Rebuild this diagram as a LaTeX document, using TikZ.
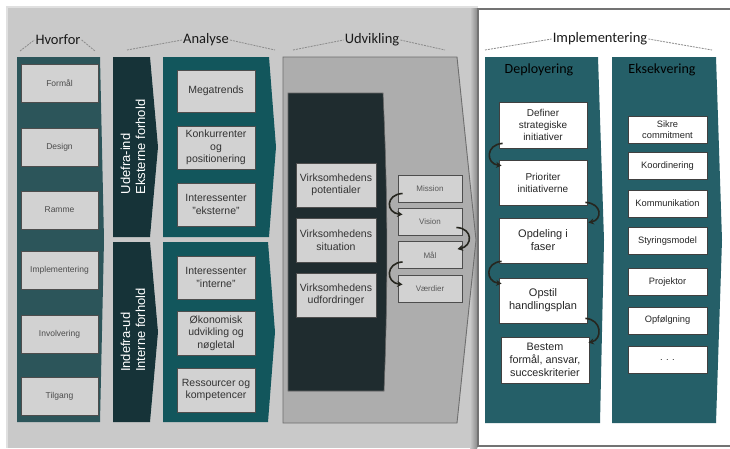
\documentclass[tikz,border=0pt]{standalone}
\usepackage{fontspec}
\setmainfont{Liberation Sans}
\newfontfamily\hdfont{Carlito}
\usetikzlibrary{arrows.meta,calc}
\definecolor{bgray}{HTML}{C9C9C9}
\definecolor{hvcol}{HTML}{2C555A}
\definecolor{udark}{HTML}{163338}
\definecolor{anteal}{HTML}{12565C}
\definecolor{udvpan}{HTML}{ADADAD}
\definecolor{udvline}{HTML}{6E6E6E}
\definecolor{inndark}{HTML}{1F2C2F}
\definecolor{depteal}{HTML}{255F68}
\definecolor{boxfill}{HTML}{D2D2D2}
\definecolor{boxline}{HTML}{4D4D4D}
\definecolor{arrc}{HTML}{26261F}
\definecolor{dashc}{HTML}{8A8A8A}
\tikzset{
  hd/.style={font=\hdfont\fontsize{14.5}{16}\selectfont, text=black!90, inner sep=1pt},
  subhd/.style={font=\hdfont\fontsize{14}{15}\selectfont, text=black, inner sep=1pt},
  dashln/.style={draw=dashc, line width=0.8pt, dash pattern=on 2pt off 1pt},
  gbox/.style={draw=boxline, fill=boxfill, line width=0.9pt, align=center, inner sep=1pt, text=black!80},
  hvbox/.style={gbox, minimum width=77pt, minimum height=38pt, font=\fontsize{8.5}{10}\selectfont, text=black!70},
  anbox/.style={gbox, minimum width=78pt, minimum height=43pt, font=\fontsize{10.5}{12.5}\selectfont},
  vbox/.style={gbox, minimum width=80pt, minimum height=44pt, font=\fontsize{10.5}{12.5}\selectfont},
  mbox/.style={gbox, minimum width=64pt, minimum height=27pt, font=\fontsize{8}{9}\selectfont, text=black!65},
  wbox/.style={draw=black!75, fill=white, line width=0.8pt, align=center, inner sep=1pt, text=black!85},
  dbox/.style={wbox, minimum width=88pt, minimum height=45pt, font=\fontsize{10}{12}\selectfont},
  ebox/.style={wbox, minimum width=79pt, minimum height=27pt, font=\fontsize{9.3}{10.5}\selectfont},
  vtext/.style={rotate=90, align=left, text=white, font=\fontsize{13}{15}\selectfont, inner sep=0pt},
  curv/.style={draw=arrc, line width=1.6pt, -{Stealth[length=5.5pt,width=6pt]}}
}
\begin{document}
\begin{tikzpicture}[x=1pt,y=-1pt]
\useasboundingbox (0,0) rectangle (730,448);
\fill[white] (0,0) rectangle (730,448);
% main gray area
\fill[black!12] (6,6) rectangle (478,448);
\fill[bgray] (8,8) rectangle (478,448);
% right panel
\shade[left color=bgray, right color=black!45] (470,8) rectangle (477,448);
\fill[white] (478,8) rectangle (730,446);
\draw[black!55, line width=2.2pt] (731,9) -- (478,9) -- (478,446) -- (731,446);

% Hvorfor column
\fill[hvcol] (17,57) -- (100,57) -- (104,240) -- (100,422) -- (17,422) -- cycle;
% Udefra / Indefra arrows
\fill[udark] (113,57) -- (150,57) -- (158,147) -- (150,237) -- (113,237) -- cycle;
\fill[udark] (113,242) -- (150,242) -- (158,332) -- (150,422) -- (113,422) -- cycle;
% Analyse boxes
\fill[anteal] (163,57) -- (269,57) -- (276,147) -- (269,237) -- (163,237) -- cycle;
\fill[anteal] (163,242) -- (268,242) -- (275,332) -- (268,422) -- (163,422) -- cycle;
% Udvikling panel
\draw[fill=udvpan, draw=udvline, line width=0.9pt] (283,57) -- (457,57) -- (476,240) -- (457,423) -- (283,423) -- cycle;
\draw[fill=inndark, draw=black!60, line width=0.6pt] (288,93) -- (383,93) .. controls (388,200) and (388,290) .. (384,391) -- (288,391) -- cycle;
% Deployering / Eksekvering
\fill[depteal] (485,57) -- (598,57) -- (604,240) -- (600,423) -- (485,423) -- cycle;
\fill[depteal] (612,57) -- (716,57) -- (722,240) -- (716,423) -- (612,423) -- cycle;

% headers
\node[hd] (hvorfor) at (58,40) {Hvorfor};
\coordinate (hvL) at (20,51); \coordinate (hvR) at (95,51);
\draw[dashln] (hvL) -- (hvorfor.west);
\draw[dashln] (hvorfor.east) -- (hvR);
\node[hd] (analyse) at (206,40) {Analyse};
\coordinate (anL) at (127,50); \coordinate (anR) at (275,50);
\draw[dashln] (anL) -- (analyse.west);
\draw[dashln] (analyse.east) -- (anR);
\node[hd] (udvikling) at (372,40) {Udvikling};
\coordinate (udL) at (293,50); \coordinate (udR) at (445,50);
\draw[dashln] (udL) -- (udvikling.west);
\draw[dashln] (udvikling.east) -- (udR);
\node[hd] (impl) at (600,39) {Implementering};
\coordinate (imL) at (485,50); \coordinate (imR) at (712,50);
\draw[dashln] (imL) -- (impl.west);
\draw[dashln] (impl.east) -- (imR);

% Hvorfor boxes
\node[hvbox] (formal) at (59.5,83) {Formål};
\node[hvbox] (design) at (59.5,147) {Design};
\node[hvbox] (ramme) at (59.5,210) {Ramme};
\node[hvbox] (implbox) at (59.5,270) {Implementering};
\node[hvbox] (involv) at (59.5,334.5) {Involvering};
\node[hvbox] (tilgang) at (59.5,396.5) {Tilgang};

% vertical texts
\node[vtext] (udefra) at (133,147) {Udefra-ind\\Eksterne forhold};
\node[vtext] (indefra) at (133,330) {Indefra-ud\\Interne forhold};

% Analyse boxes
\node[anbox, minimum height=42pt] (mega) at (216,91) {Megatrends};
\node[anbox] (konk) at (216,147.5) {Konkurrenter\\og\\positionering};
\node[anbox] (inteks) at (216,204.5) {Interessenter\\"eksterne"};
\node[anbox] (intint) at (216,277.5) {Interessenter\\"interne"};
\node[anbox, minimum height=44pt] (okon) at (216,333) {Økonomisk\\udvikling og\\nøgletal};
\node[anbox, minimum height=44pt] (ress) at (216,390) {Ressourcer og\\kompetencer};

% Udvikling boxes
\node[vbox] (pot) at (336,185) {Virksomhedens\\potentialer};
\node[vbox] (sit) at (336,240) {Virksomhedens\\situation};
\node[vbox] (udf) at (336,295) {Virksomhedens\\udfordringer};
\node[mbox] (mission) at (430,188.5) {Mission};
\node[mbox] (vision) at (430,221.5) {Vision};
\node[mbox] (maal) at (430,255) {Mål};
\node[mbox] (vaerdier) at (430,288.5) {Værdier};
\draw[curv] ($(mission.south west)+(5,-9)$) .. controls +(-17,1) and +(-17,-2) .. ($(vision.north west)+(5,7)$);
\draw[curv] ($(vision.south east)+(-6,-8)$) .. controls +(17,1) and +(15,-3) .. ($(maal.north east)+(-5,8)$);
\draw[curv] ($(maal.south west)+(5,-7)$) .. controls +(-17,1) and +(-17,-2) .. ($(vaerdier.north west)+(5,10)$);

% Deployering
\node[subhd] (deploy) at (539,70) {Deployering};
\node[subhd] (eksek) at (662,70) {Eksekvering};
\node[dbox, minimum height=46pt] (definer) at (543,125) {Definer\\strategiske\\initiativer};
\node[dbox] (prior) at (543,182.5) {Prioriter\\initiativerne};
\node[dbox, font=\fontsize{11}{13}\selectfont] (opdel) at (543,240.5) {Opdeling i\\faser};
\node[dbox, font=\fontsize{11}{13}\selectfont] (opstil) at (543,300.5) {Opstil\\handlingsplan};
\node[dbox, minimum height=46pt, font=\fontsize{10.8}{13}\selectfont] (bestem) at (545,360) {Bestem\\formål, ansvar,\\succeskriterier};
\draw[curv] ($(definer.south west)+(4,-5)$) .. controls +(-17,1) and +(-16,-2) .. ($(prior.north west)+(3,6)$);
\draw[curv] ($(prior.south east)+(-2,-3)$) .. controls +(17,1) and +(14,-3) .. ($(opdel.north east)+(1,5)$);
\draw[curv] ($(opdel.south west)+(3,-2)$) .. controls +(-17,1) and +(-16,-2) .. ($(opstil.north west)+(3,6)$);
\draw[curv] ($(opstil.south east)+(-2,-5)$) .. controls +(17,1) and +(14,-3) .. ($(bestem.north east)+(-1,6)$);

% Eksekvering
\node[ebox] (sikre) at (667.5,129.5) {Sikre\\commitment};
\node[ebox] (koord) at (667.5,166) {Koordinering};
\node[ebox] (komm) at (667.5,203.5) {Kommunikation};
\node[ebox] (styr) at (667.5,241) {Styringsmodel};
\node[ebox] (proj) at (667.5,282) {Projektor};
\node[ebox] (opf) at (667.5,320.5) {Opfølgning};
\node[ebox] (dots) at (667.5,359.5) {. . .};
\end{tikzpicture}
\end{document}
